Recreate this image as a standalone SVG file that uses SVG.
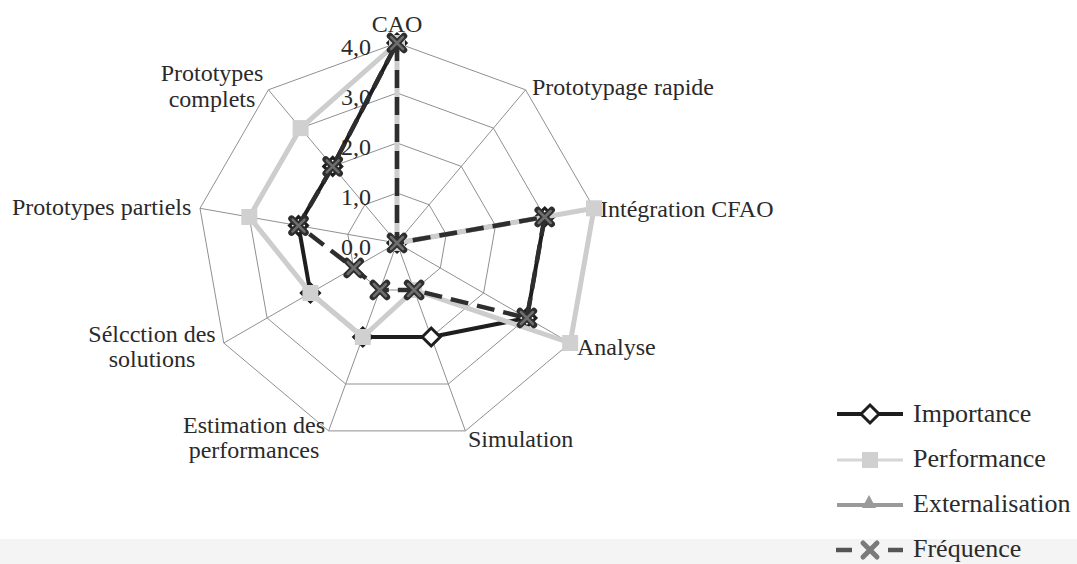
<svg xmlns="http://www.w3.org/2000/svg" xmlns:xlink="http://www.w3.org/1999/xlink" width="1077" height="564" viewBox="0 0 1077 564">
  <style>
    .lbl { font-family: "Liberation Serif", "Times New Roman", serif; font-size: 24px; fill: #2a2a2a; }
    .leg { font-family: "Liberation Serif", "Times New Roman", serif; font-size: 26px; fill: #2a2a2a; }
    .ring { fill: none; stroke: #909090; stroke-width: 1; }
    .spoke { stroke: #909090; stroke-width: 1; }
    .s-imp { fill: none; stroke: #1e1e1e; stroke-width: 4; stroke-linejoin: round; }
    .s-perf { fill: none; stroke: #cdcdcd; stroke-width: 5; stroke-linejoin: round; }
    .s-ext { fill: none; stroke: #9a9a9a; stroke-width: 4; }
    .s-freq { fill: none; stroke: #2e2e2e; stroke-width: 4.5; stroke-dasharray: 18 9; }
  </style>
  <defs>
    <!-- series markers -->
    <polygon id="mk-diamond" points="0,-9 9,0 0,9 -9,0" fill="#ffffff" stroke="#1e1e1e" stroke-width="3"/>
    <rect id="mk-square" x="-8" y="-8" width="16" height="16" fill="#d0d0d0"/>
    <polygon id="mk-tri" points="0,-8 7,5 -7,5" fill="#9a9a9a"/>
    <g id="mk-x">
      <path d="M-7,-7 L7,7 M-7,7 L7,-7" stroke="#2e2e2e" stroke-width="6.5" stroke-linecap="round"/>
      <path d="M-6,-6 L6,6 M-6,6 L6,-6" stroke="#6e6e6e" stroke-width="2.5" stroke-linecap="round"/>
    </g>
  </defs>

  <rect x="0" y="0" width="1077" height="564" fill="#ffffff"/>
  <rect x="0" y="539" width="1077" height="25" fill="#f4f4f4"/>

  <!-- radar grid: rings at 1, 2, 3, 4 and nine spokes -->
  <g id="grid">
    <polygon class="ring" points="397,43 525.6,89.8 594,208.3 570.2,343 465.4,430.9 328.6,430.9 223.8,343 200,208.3 268.4,89.8"/>
    <polygon class="ring" points="397,93 493.4,128.1 544.7,217 526.9,318 448.3,384 345.7,384 267.1,318 249.3,217 300.6,128.1"/>
    <polygon class="ring" points="397,143 461.3,166.4 495.5,225.6 483.6,293 431.2,337 362.8,337 310.4,293 298.5,225.6 332.7,166.4"/>
    <polygon class="ring" points="397,193 429.1,204.7 446.2,234.3 440.3,268 414.1,290 379.9,290 353.7,268 347.8,234.3 364.9,204.7"/>
    <line class="spoke" x1="397" y1="243" x2="397" y2="43"/>
    <line class="spoke" x1="397" y1="243" x2="525.6" y2="89.8"/>
    <line class="spoke" x1="397" y1="243" x2="594" y2="208.3"/>
    <line class="spoke" x1="397" y1="243" x2="570.2" y2="343"/>
    <line class="spoke" x1="397" y1="243" x2="465.4" y2="430.9"/>
    <line class="spoke" x1="397" y1="243" x2="328.6" y2="430.9"/>
    <line class="spoke" x1="397" y1="243" x2="223.8" y2="343"/>
    <line class="spoke" x1="397" y1="243" x2="200" y2="208.3"/>
    <line class="spoke" x1="397" y1="243" x2="268.4" y2="89.8"/>
  </g>

  <!-- scale values -->
  <g id="scale" class="lbl" text-anchor="end">
    <text x="371" y="55">4,0</text>
    <text x="371" y="105">3,0</text>
    <text x="371" y="155">2,0</text>
    <text x="371" y="205">1,0</text>
    <text x="371" y="255">0,0</text>
  </g>

  <!-- axis names -->
  <g id="axis-labels" class="lbl">
    <text x="397" y="32" text-anchor="middle">CAO</text>
    <text x="532" y="95">Prototypage rapide</text>
    <text x="600" y="217">Intégration CFAO</text>
    <text x="577" y="355">Analyse</text>
    <text x="468" y="447">Simulation</text>
    <text x="254" y="433" text-anchor="middle">Estimation des</text>
    <text x="254" y="458" text-anchor="middle">performances</text>
    <text x="152" y="342" text-anchor="middle">Sélcction des</text>
    <text x="152" y="367" text-anchor="middle">solutions</text>
    <text x="12" y="215">Prototypes partiels</text>
    <text x="212" y="81" text-anchor="middle">Prototypes</text>
    <text x="212" y="107" text-anchor="middle">complets</text>
  </g>

  <!-- data series -->
  <g id="series-importance">
    <polygon class="s-imp" points="397,43 397,243 544.7,217 526.9,318 431.2,337 362.8,337 310.4,293 298.5,225.6 332.7,166.4"/>
    <use xlink:href="#mk-diamond" x="397" y="43"/>
    <use xlink:href="#mk-diamond" x="397" y="243"/>
    <use xlink:href="#mk-diamond" x="544.7" y="217"/>
    <use xlink:href="#mk-diamond" x="526.9" y="318"/>
    <use xlink:href="#mk-diamond" x="431.2" y="337"/>
    <use xlink:href="#mk-diamond" x="362.8" y="337"/>
    <use xlink:href="#mk-diamond" x="310.4" y="293"/>
    <use xlink:href="#mk-diamond" x="298.5" y="225.6"/>
    <use xlink:href="#mk-diamond" x="332.7" y="166.4"/>
  </g>
  <g id="series-performance">
    <polygon class="s-perf" points="397,43 397,243 594,208.3 570.2,343 414.1,290 362.8,337 310.4,293 249.3,217 300.6,128.1"/>
    <use xlink:href="#mk-square" x="397" y="43"/>
    <use xlink:href="#mk-square" x="397" y="243"/>
    <use xlink:href="#mk-square" x="594" y="208.3"/>
    <use xlink:href="#mk-square" x="570.2" y="343"/>
    <use xlink:href="#mk-square" x="414.1" y="290"/>
    <use xlink:href="#mk-square" x="362.8" y="337"/>
    <use xlink:href="#mk-square" x="310.4" y="293"/>
    <use xlink:href="#mk-square" x="249.3" y="217"/>
    <use xlink:href="#mk-square" x="300.6" y="128.1"/>
  </g>
  <g id="series-externalisation">
    <use xlink:href="#mk-tri" x="397" y="243"/>
  </g>
  <g id="series-frequence">
    <polygon class="s-freq" points="397,43 397,243 544.7,217 526.9,318 414.1,290 379.9,290 353.7,268 298.5,225.6 332.7,166.4"/>
    <use xlink:href="#mk-x" x="397" y="43"/>
    <use xlink:href="#mk-x" x="397" y="243"/>
    <use xlink:href="#mk-x" x="544.7" y="217"/>
    <use xlink:href="#mk-x" x="526.9" y="318"/>
    <use xlink:href="#mk-x" x="414.1" y="290"/>
    <use xlink:href="#mk-x" x="379.9" y="290"/>
    <use xlink:href="#mk-x" x="353.7" y="268"/>
    <use xlink:href="#mk-x" x="298.5" y="225.6"/>
    <use xlink:href="#mk-x" x="332.7" y="166.4"/>
  </g>

  <!-- legend -->
  <g id="legend">
    <line x1="837" y1="414" x2="903" y2="414" stroke="#1e1e1e" stroke-width="4"/>
    <use xlink:href="#mk-diamond" x="870" y="414"/>
    <text class="leg" x="913" y="422">Importance</text>

    <line x1="837" y1="460" x2="903" y2="460" stroke="#d6d6d6" stroke-width="3"/>
    <use xlink:href="#mk-square" x="870" y="460"/>
    <text class="leg" x="913" y="467">Performance</text>

    <line x1="837" y1="505" x2="903" y2="505" stroke="#9a9a9a" stroke-width="4"/>
    <use xlink:href="#mk-tri" x="869" y="503"/>
    <text class="leg" x="913" y="512">Externalisation</text>

    <line x1="836" y1="550" x2="852" y2="550" stroke="#555555" stroke-width="4.5"/>
    <line x1="888" y1="550" x2="903" y2="550" stroke="#555555" stroke-width="4.5"/>
    <g transform="translate(870,550)">
      <path d="M-7,-7 L7,7 M-7,7 L7,-7" stroke="#7a7a7a" stroke-width="5" stroke-linecap="round"/>
    </g>
    <text class="leg" x="913" y="557">Fréquence</text>
  </g>
</svg>
